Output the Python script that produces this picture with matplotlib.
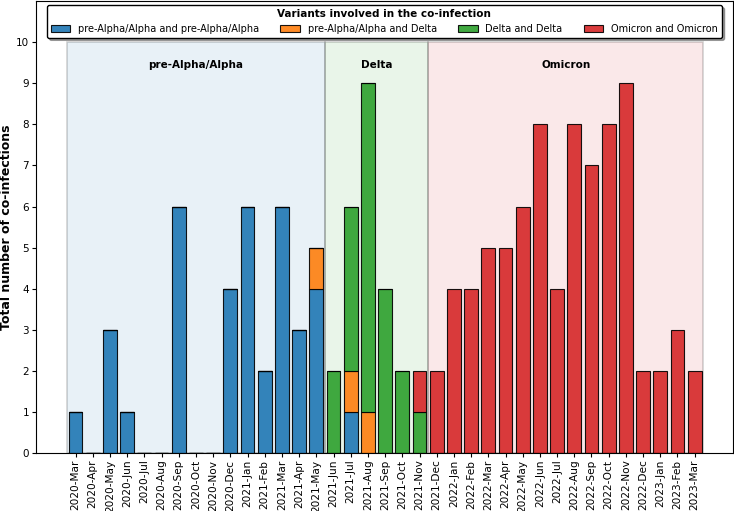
import matplotlib
matplotlib.use("Agg")
import matplotlib.pyplot as plt
import numpy as np

months = ["2020-Mar", "2020-Apr", "2020-May", "2020-Jun", "2020-Jul", "2020-Aug",
          "2020-Sep", "2020-Oct", "2020-Nov", "2020-Dec", "2021-Jan", "2021-Feb",
          "2021-Mar", "2021-Apr", "2021-May", "2021-Jun", "2021-Jul", "2021-Aug",
          "2021-Sep", "2021-Oct", "2021-Nov", "2021-Dec", "2022-Jan", "2022-Feb",
          "2022-Mar", "2022-Apr", "2022-May", "2022-Jun", "2022-Jul", "2022-Aug",
          "2022-Sep", "2022-Oct", "2022-Nov", "2022-Dec", "2023-Jan", "2023-Feb",
          "2023-Mar"]

alpha_alpha = [1, 0, 3, 1, 0, 0, 6, 0, 0, 4, 6, 2, 6, 3, 4, 0, 1, 0, 0, 0, 0,
               0, 0, 0, 0, 0, 0, 0, 0, 0, 0, 0, 0, 0, 0, 0, 0]
alpha_delta = [0, 0, 0, 0, 0, 0, 0, 0, 0, 0, 0, 0, 0, 0, 1, 0, 1, 1, 0, 0, 0,
               0, 0, 0, 0, 0, 0, 0, 0, 0, 0, 0, 0, 0, 0, 0, 0]
delta_delta = [0, 0, 0, 0, 0, 0, 0, 0, 0, 0, 0, 0, 0, 0, 0, 2, 4, 8, 4, 2, 1,
               0, 0, 0, 0, 0, 0, 0, 0, 0, 0, 0, 0, 0, 0, 0, 0]
omicron_omicron = [0, 0, 0, 0, 0, 0, 0, 0, 0, 0, 0, 0, 0, 0, 0, 0, 0, 0, 0, 0, 1,
                   2, 4, 4, 5, 5, 6, 8, 4, 8, 7, 8, 9, 2, 2, 3, 2]

series = [
    ("pre-Alpha/Alpha and pre-Alpha/Alpha", alpha_alpha, "tab:blue"),
    ("pre-Alpha/Alpha and Delta", alpha_delta, "tab:orange"),
    ("Delta and Delta", delta_delta, "tab:green"),
    ("Omicron and Omicron", omicron_omicron, "tab:red"),
]

# variant periods: (label, first month, last month, colour)
periods = [
    ("pre-Alpha/Alpha", "2020-Mar", "2021-May", "tab:blue"),
    ("Delta", "2021-Jun", "2021-Nov", "tab:green"),
    ("Omicron", "2021-Dec", "2023-Mar", "tab:red"),
]

fig, ax = plt.subplots(figsize=(7.34, 5.11), dpi=100)
x = np.arange(len(months))

for name, start, end, col in periods:
    x0 = months.index(start) - 0.5
    x1 = months.index(end) + 0.5
    ax.axvspan(x0, x1, ymin=0, ymax=10.0 / 11, facecolor=col, alpha=0.1, zorder=0)
    ax.axvspan(x0, x1, ymin=0, ymax=10.0 / 11, facecolor="none",
               edgecolor=(0, 0, 0, 0.18), lw=1.2, zorder=0)
    ax.text((x0 + x1) / 2, 9.45, name, ha="center", va="center",
            fontsize=7.5, fontweight="bold")

bottom = np.zeros(len(months))
for name, vals, col in series:
    v = np.array(vals)
    ax.bar(x, v, 0.8, bottom=bottom, color=col, alpha=0.9, edgecolor="black",
           linewidth=0.8, label=name, zorder=2)
    bottom += v

ax.set_xlim(-2.3, 38.2)
ax.set_ylim(0, 11)
ax.set_yticks(range(0, 11))
ax.set_xticks(x)
ax.set_xticklabels(months, rotation=90, fontsize=7.6)
ax.tick_params(axis="y", labelsize=7.5, length=3, pad=2)
ax.tick_params(axis="x", length=3, pad=1.5)
ax.set_ylabel("Total number of co-infections", fontsize=9, fontweight="bold",
              labelpad=2)

leg = ax.legend(loc="upper center", ncol=4, fontsize=7, shadow=True,
                title="Variants involved in the co-infection",
                title_fontproperties={"weight": "bold", "size": 7.5},
                edgecolor="black", fancybox=True, framealpha=1,
                borderaxespad=0.4, columnspacing=2.2, handlelength=2.0)

fig.subplots_adjust(left=0.049, right=0.998, top=0.998, bottom=0.113)
fig.savefig("out.png", dpi=100)
